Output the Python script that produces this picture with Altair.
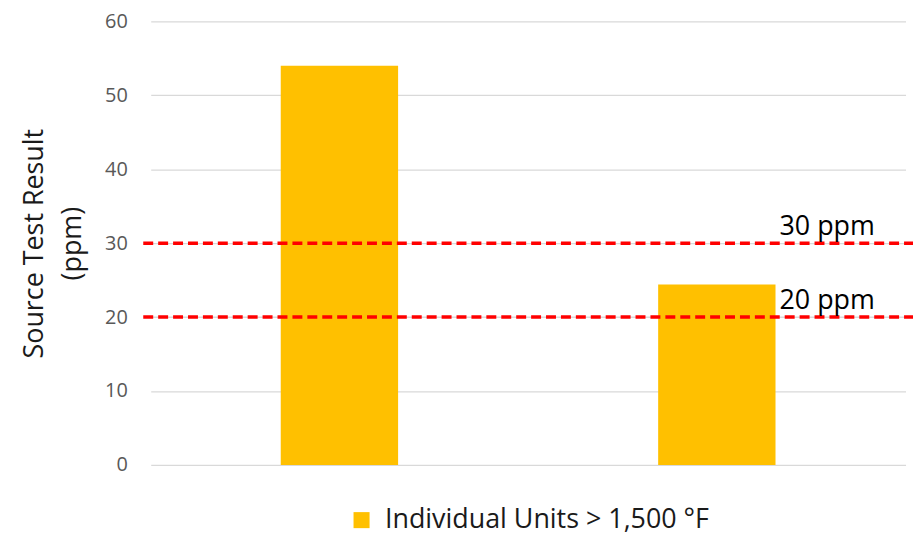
import altair as alt
import pandas as pd

categories = ["Unit A", "Unit B"]
values = [54, 24.4]
series_name = "Individual Units > 1,500 °F"
thresholds = [30, 20]
threshold_labels = ["30 ppm", "20 ppm"]

W, H = 768, 446
FONT = "Open Sans"

bars_df = pd.DataFrame({"cat": categories, "value": values, "series": [series_name] * 2})
thr_df = pd.DataFrame({"y": thresholds, "label": threshold_labels, "cat": [categories[1]] * 2})

xscale = alt.Scale(domain=categories, paddingInner=0, paddingOuter=0, range=[1.5, 760.5])
yscale = alt.Scale(domain=[0, 60])

bars = alt.Chart(bars_df).mark_bar(size=118).encode(
    x=alt.X("cat:N", scale=xscale, axis=None),
    y=alt.Y("value:Q", scale=yscale,
            axis=alt.Axis(values=[0, 10, 20, 30, 40, 50, 60], domain=False, ticks=False,
                          grid=True, gridColor="#D9D9D9", gridWidth=1.3,
                          labelFont=FONT, labelFontSize=20, labelColor="#595959",
                          labelPadding=22,
                          title=["Source Test Result", "(ppm)"],
                          titleFont=FONT, titleFontSize=27, titleFontWeight="normal",
                          titleColor="#1a1a1a", titlePadding=18, titleLineHeight=38)),
    color=alt.Color("series:N", scale=alt.Scale(range=["#FFC000"]),
                    legend=alt.Legend(title=None, orient="none", legendX=200, legendY=488,
                                      symbolType="square", symbolSize=260, symbolStrokeWidth=0,
                                      labelFont=FONT, labelFontSize=27, labelColor="#1a1a1a",
                                      labelLimit=600, symbolOffset=0, labelOffset=10)),
)

rules = alt.Chart(thr_df).mark_rule(color="#FF0000", strokeWidth=3.5, strokeDash=[10, 5]).encode(
    y=alt.Y("y:Q", scale=yscale),
    x=alt.value(-6),
    x2=alt.value(W),
)

labels = alt.Chart(thr_df).mark_text(align="left", baseline="alphabetic", dx=63, dy=-8,
                                     font=FONT, fontSize=27, color="#000000").encode(
    x=alt.X("cat:N", scale=xscale),
    y=alt.Y("y:Q", scale=yscale),
    text="label:N",
)

chart = alt.layer(bars, rules, labels).properties(
    width=W, height=H,
    autosize=alt.AutoSizeParams(type="none"),
    padding={"left": 142, "top": 12, "right": 0, "bottom": 71},
).configure_view(stroke=None)

chart.save("out.html", embed_options={"renderer": "svg", "actions": False})
